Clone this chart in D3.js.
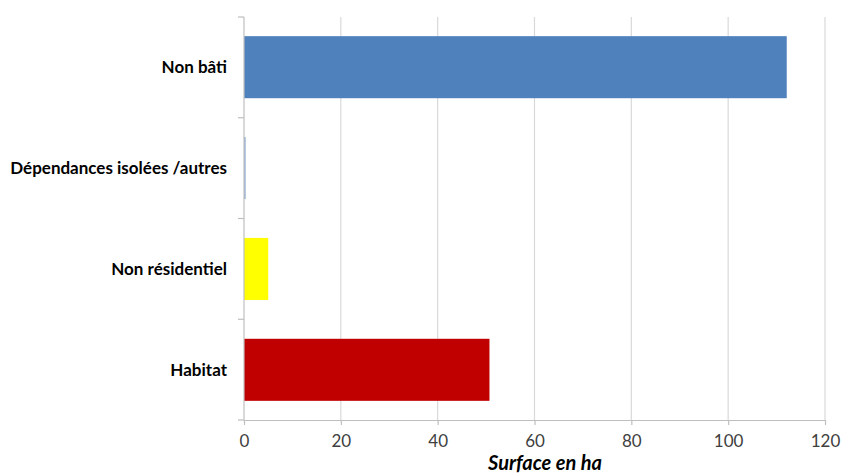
<!DOCTYPE html>
<html>
<head>
<meta charset="utf-8">
<script src="https://cdn.jsdelivr.net/npm/d3@7"></script>
<style>
  html, body { margin: 0; padding: 0; background: #fff; }
  svg { display: block; }
</style>
</head>
<body>
<svg id="chart" width="841" height="475"></svg>
<script>
// Land use by category, surface in hectares
const categories = ["Non bâti", "Dépendances isolées /autres", "Non résidentiel", "Habitat"];
const values = [112.1, 0.35, 5.0, 50.7];
const barColors = ["#4F81BD", "#95B3D7", "#FFFF00", "#C00000"];
const xTicks = [0, 20, 40, 60, 80, 100, 120];
const xTitle = "Surface en ha";

const svg = d3.select("#chart");
const margin = { left: 244, right: 16, top: 17, bottom: 55 };
const W = 841, H = 475;
const innerW = W - margin.left - margin.right;
const innerH = H - margin.top - margin.bottom;
const font = "Lato, 'Open Sans', sans-serif";

const g = svg.append("g").attr("transform", `translate(${margin.left},${margin.top})`);

const x = d3.scaleLinear().domain([0, 120]).range([0, innerW]);
const y = d3.scaleBand().domain(categories).range([0, innerH]).paddingInner(0.385).paddingOuter(0.19);

// vertical gridlines
g.append("g")
  .selectAll("line")
  .data(xTicks.slice(1))
  .join("line")
  .attr("x1", d => x(d)).attr("x2", d => x(d))
  .attr("y1", 0).attr("y2", innerH)
  .attr("stroke", "#d9d9d9").attr("stroke-width", 1.2);

// bars
g.append("g")
  .selectAll("rect")
  .data(categories)
  .join("rect")
  .attr("x", x(0))
  .attr("y", d => y(d))
  .attr("height", y.bandwidth())
  .attr("width", (d, i) => x(values[i]) - x(0))
  .attr("fill", (d, i) => barColors[i]);

// bottom axis
const xAxis = g.append("g")
  .attr("transform", `translate(0,${innerH})`)
  .call(d3.axisBottom(x).tickValues(xTicks).tickSize(5).tickPadding(10).tickSizeOuter(0));
xAxis.select(".domain").attr("stroke", "#bfbfbf").attr("stroke-width", 1.2);
xAxis.selectAll(".tick line").attr("stroke", "#bfbfbf").attr("stroke-width", 1.2);
xAxis.selectAll(".tick text")
  .attr("fill", "#404040")
  .style("font-family", font)
  .style("font-size", "17px");

// left axis: category labels, ticks at band boundaries
const boundaries = d3.range(categories.length + 1).map(i => i * innerH / categories.length);
const yAxisG = g.append("g");
yAxisG.append("line")
  .attr("x1", 0).attr("x2", 0).attr("y1", 0).attr("y2", innerH)
  .attr("stroke", "#bfbfbf").attr("stroke-width", 1.2);
yAxisG.selectAll("line.tk")
  .data(boundaries)
  .join("line")
  .attr("class", "tk")
  .attr("x1", -6).attr("x2", 0)
  .attr("y1", d => d).attr("y2", d => d)
  .attr("stroke", "#bfbfbf").attr("stroke-width", 1.2);
yAxisG.selectAll("text")
  .data(categories)
  .join("text")
  .attr("x", -17)
  .attr("y", d => y(d) + y.bandwidth() / 2)
  .attr("dy", "0.35em")
  .attr("text-anchor", "end")
  .attr("fill", "#000")
  .style("font-family", font)
  .style("font-size", "17px")
  .style("font-weight", "bold")
  .text(d => d);

// axis title
svg.append("text")
  .attr("x", 545)
  .attr("y", 470)
  .attr("text-anchor", "middle")
  .attr("fill", "#000")
  .style("font-family", font)
  .style("font-size", "20px")
  .style("font-weight", "bold")
  .style("font-style", "italic")
  .text(xTitle);
</script>
</body>
</html>
